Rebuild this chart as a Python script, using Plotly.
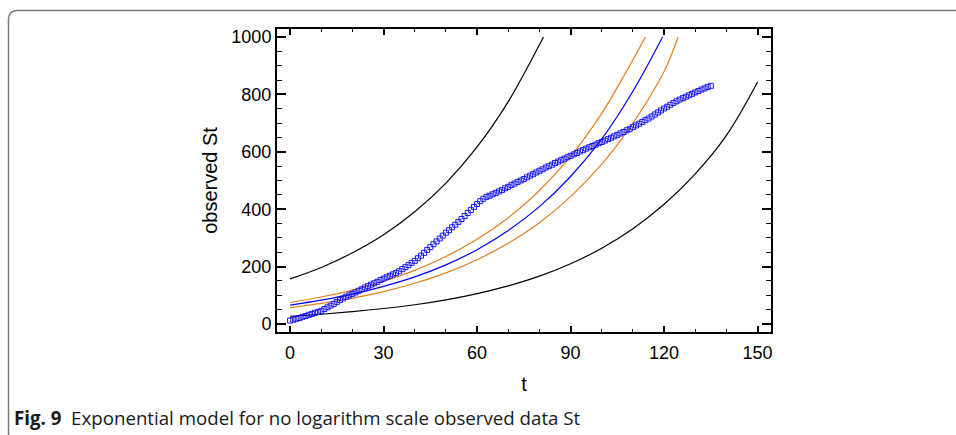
import plotly.graph_objects as go

# ---------------- data ----------------
t_obs = list(range(0, 136))
st_obs = [
    12, 15, 18, 21, 25, 28, 32, 35, 39, 42, 46,
    52, 58, 64, 70, 77, 83, 89, 95, 100, 105,
    110, 116, 121, 127, 132, 137, 142, 147, 153, 158,
    163, 168, 173, 178, 184, 191, 198, 205, 213, 220,
    229, 238, 248, 258, 268, 278, 288, 298, 308, 318,
    327, 337, 346, 356, 366, 376, 387, 397, 408, 418,
    428, 436, 443, 447, 452, 457, 462, 467, 473, 478,
    484, 489, 495, 500, 505, 511, 517, 522, 528, 534,
    539, 545, 550, 555, 561, 566, 571, 576, 581, 586,
    591, 596, 601, 606, 611, 616, 620, 625, 630, 634,
    639, 644, 649, 654, 659, 664, 669, 675, 680, 686,
    692, 698, 704, 710, 716, 723, 730, 737, 744, 751,
    757, 764, 770, 776, 782, 787, 792, 797, 802, 807,
    812, 817, 821, 826, 830,
]

# fitted exponential model (blue)
t_fit = [0, 10, 20, 30, 40, 50, 60, 70, 80, 90, 100, 110, 119.5]
s_fit = [66, 83, 104, 131, 164, 206, 259, 326, 409, 514, 645, 811, 1000]

# confidence limits for mean (orange)
t_cl_up = [0, 10, 20, 30, 40, 50, 60, 70, 80, 90, 100, 110, 114]
s_cl_up = [75, 94, 118, 149, 187, 235, 295, 370, 465, 584, 734, 921, 1000]
t_cl_lo = [0, 10, 20, 30, 40, 50, 60, 70, 80, 90, 100, 110, 120, 124.5]
s_cl_lo = [57, 72, 90, 113, 142, 178, 224, 281, 353, 444, 557, 700, 880, 1000]

# prediction limits (black)
t_pl_up = [0, 10, 20, 30, 40, 50, 60, 70, 80, 81.3]
s_pl_up = [157, 197, 248, 311, 391, 491, 617, 775, 973, 1000]
t_pl_lo = [0, 10, 20, 30, 40, 50, 60, 70, 80, 90, 100, 110, 120, 130, 140, 150]
s_pl_lo = [27, 34, 43, 54, 67, 84, 106, 133, 167, 210, 264, 332, 417, 523, 657, 843]

x_ticks = [0, 30, 60, 90, 120, 150]
y_ticks = [0, 200, 400, 600, 800, 1000]

caption_bold = "Fig. 9"
caption_text = "Exponential model for no logarithm scale observed data St"

# ---------------- figure ----------------
W, H = 956, 435
ML, MR, MT, MB = 277, 185, 29, 103
PW, PH = W - ML - MR, H - MT - MB


def px(x):
    return (x - ML) / PW


def py(y):
    return (H - MB - y) / PH


BLUE = "#0000FF"
ORANGE = "#E67E22"
BLACK = "#000000"
AX_FONT = "Liberation Sans, Arial"

fig = go.Figure()
line_kw = dict(mode="lines", line_shape="spline", showlegend=False, hoverinfo="skip")
fig.add_trace(go.Scatter(x=t_pl_up, y=s_pl_up, line=dict(color=BLACK, width=1.2), **line_kw))
fig.add_trace(go.Scatter(x=t_pl_lo, y=s_pl_lo, line=dict(color=BLACK, width=1.2), **line_kw))
fig.add_trace(go.Scatter(x=t_cl_up, y=s_cl_up, line=dict(color=ORANGE, width=1.2), **line_kw))
fig.add_trace(go.Scatter(x=t_cl_lo, y=s_cl_lo, line=dict(color=ORANGE, width=1.2), **line_kw))
fig.add_trace(go.Scatter(x=t_fit, y=s_fit, line=dict(color=BLUE, width=1.2), **line_kw))
fig.add_trace(go.Scatter(
    x=t_obs, y=st_obs, mode="markers", showlegend=False,
    marker=dict(symbol="square-open", size=5, color=BLUE, line=dict(width=0.9, color=BLUE)),
))

axis_common = dict(
    showline=True, linecolor="black", linewidth=2, mirror="allticks",
    ticks="inside", tickcolor="black", tickwidth=1.5,
    showgrid=False, zeroline=False,
    tickfont=dict(family=AX_FONT, size=18, color="black"),
)

fig.update_xaxes(
    range=[-4.2, 154.3], tickvals=x_ticks, ticklen=6, ticklabelstandoff=3,
    minor=dict(dtick=10, tick0=0, ticklen=3, ticks="inside", tickcolor="black", tickwidth=1.2),
    title=dict(text="t", font=dict(family=AX_FONT, size=20, color="black"), standoff=15),
    **axis_common,
)
fig.update_yaxes(
    range=[-27.9, 1027.9], tickvals=y_ticks, ticklen=9,
    minor=dict(dtick=50, tick0=0, ticklen=5, ticks="inside", tickcolor="black", tickwidth=1.2),
    title=dict(text="observed St", font=dict(family=AX_FONT, size=20, color="black"), standoff=8),
    **axis_common,
)

# rounded frame around the figure
x0, y0, x1, y1, r = 8.5, 10.5, 975, 442, 9
path = (
    f"M {px(x0 + r)},{py(y0)} L {px(x1)},{py(y0)} L {px(x1)},{py(y1)} "
    f"L {px(x0 + r)},{py(y1)} Q {px(x0)},{py(y1)} {px(x0)},{py(y1 - r)} "
    f"L {px(x0)},{py(y0 + r)} Q {px(x0)},{py(y0)} {px(x0 + r)},{py(y0)}"
)
fig.add_shape(type="path", path=path, xref="paper", yref="paper",
              line=dict(color="#7a7a7a", width=1.5), layer="below")

fig.add_annotation(
    x=px(12), y=py(417), xref="paper", yref="paper", xanchor="left", yanchor="middle",
    showarrow=False,
    text=f"<b>{caption_bold}</b>  {caption_text}",
    font=dict(family="Open Sans", size=18.7, color="#1a1a1a"),
)

fig.update_layout(
    width=W, height=H,
    margin=dict(l=ML, r=MR, t=MT, b=MB),
    paper_bgcolor="white", plot_bgcolor="white",
)

fig.write_html(
    "out.html",
    config={"displayModeBar": False},
    post_script="document.body.style.margin='0';document.body.style.padding='0';"
                "document.body.style.overflow='hidden';",
)
